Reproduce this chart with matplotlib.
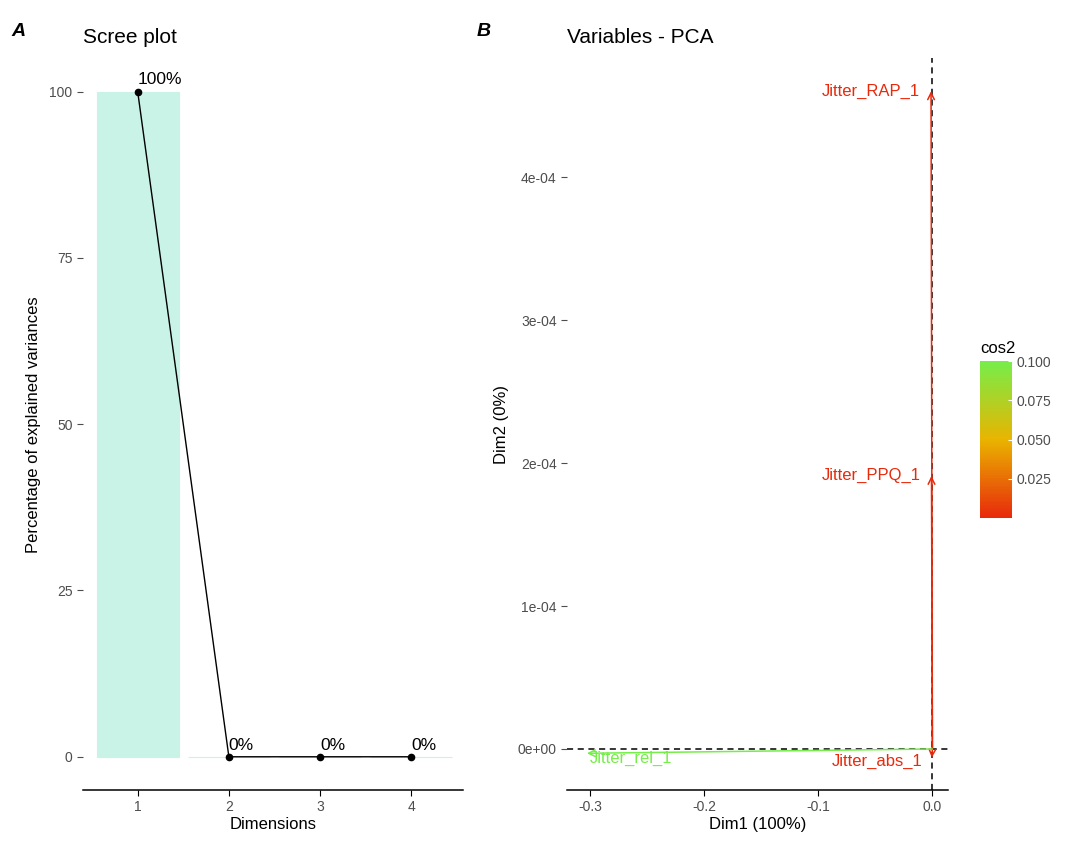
import numpy as np
import matplotlib
matplotlib.use("Agg")
import matplotlib.pyplot as plt
from matplotlib.colors import LinearSegmentedColormap, Normalize
from matplotlib.colorbar import ColorbarBase

plt.rcParams['font.family'] = ['Liberation Sans', 'DejaVu Sans']

# scree data
dims = [1, 2, 3, 4]
variance_pct = [100.0, 0.0, 0.0, 0.0]
pct_labels = ["100%", "0%", "0%", "0%"]

# variable coordinates on Dim1 / Dim2 and their cos2
var_names = ["Jitter_RAP_1", "Jitter_PPQ_1", "Jitter_abs_1", "Jitter_rel_1"]
dim1 = [-0.0012, -0.0008, -0.0005, -0.3026]
dim2 = [4.60e-4, 1.91e-4, -0.06e-4, -0.03e-4]
cos2 = [0.0, 0.0, 0.0, 0.1]

tick_grey = "#4D4D4D"
bar_col = "#C9F3E6"
cmap = LinearSegmentedColormap.from_list("cos2", ["#E8290B", "#E9B400", "#76EE4A"])
norm = Normalize(vmin=0.0, vmax=0.1)

fig = plt.figure(figsize=(10.68, 8.41), dpi=100)


def style_axes(ax):
    for side in ("top", "right", "left"):
        ax.spines[side].set_visible(False)
    ax.spines["bottom"].set_color("black")
    ax.spines["bottom"].set_linewidth(1.1)
    ax.tick_params(axis="both", colors=tick_grey, labelcolor=tick_grey,
                   length=4, width=0.8, labelsize=10)
    ax.tick_params(axis="x", colors="black", labelcolor=tick_grey)


# --- A: scree plot ---
ax1 = fig.add_axes([0.0777, 0.0606, 0.356, 0.870])
ax1.bar(dims, variance_pct, width=0.9, color=bar_col, edgecolor=bar_col, linewidth=0.8)
ax1.plot(dims, variance_pct, color="black", lw=1, marker="o", ms=4.5, zorder=3)
for x, y, lab in zip(dims, variance_pct, pct_labels):
    ax1.annotate(lab, (x, y), xytext=(0, 3), textcoords="offset points",
                 ha="left", va="bottom", fontsize=12.5, color="black")
ax1.set_xlim(0.4, 4.57)
ax1.set_ylim(-5, 105)
ax1.set_xticks(dims)
ax1.set_yticks([0, 25, 50, 75, 100])
ax1.set_xlabel("Dimensions", fontsize=12, color="black", labelpad=2)
ax1.set_ylabel("Percentage of explained variances", fontsize=12, color="black", labelpad=6)
ax1.set_title("Scree plot", loc="left", fontsize=15, pad=11)
style_axes(ax1)

# --- B: variables PCA ---
ax2 = fig.add_axes([0.531, 0.0606, 0.357, 0.870])
ax2.axhline(0, color="black", ls=(0, (4, 3)), lw=1.1, zorder=1)
ax2.axvline(0, color="black", ls=(0, (4, 3)), lw=1.1, zorder=1)
for name, x, y, c in zip(var_names, dim1, dim2, cos2):
    col = cmap(norm(c))
    ax2.annotate("", xy=(x, y), xytext=(0, 0),
                 arrowprops=dict(arrowstyle="->", color=col, lw=1.1,
                                 shrinkA=0, shrinkB=0, mutation_scale=12), zorder=2)
    if x < -0.1:
        ax2.annotate(name, (x, y), xytext=(2, -4), textcoords="offset points",
                     ha="left", va="center", fontsize=12, color=col)
    elif y < 0:
        ax2.annotate(name, (x, y), xytext=(-7, -3), textcoords="offset points",
                     ha="right", va="center", fontsize=12, color=col)
    else:
        ax2.annotate(name, (x, y), xytext=(-8, 0), textcoords="offset points",
                     ha="right", va="center", fontsize=12, color=col)
ax2.set_xlim(-0.32, 0.014)
ax2.set_ylim(-0.287e-4, 4.83e-4)
ax2.set_xticks([-0.3, -0.2, -0.1, 0.0])
ax2.set_xticklabels(["-0.3", "-0.2", "-0.1", "0.0"])
ax2.set_yticks([0, 1e-4, 2e-4, 3e-4, 4e-4])
ax2.set_yticklabels(["0e+00", "1e-04", "2e-04", "3e-04", "4e-04"])
ax2.set_xlabel("Dim1 (100%)", fontsize=12, color="black", labelpad=2)
ax2.set_ylabel("Dim2 (0%)", fontsize=12, color="black", labelpad=6)
ax2.set_title("Variables - PCA", loc="left", fontsize=15, pad=11)
style_axes(ax2)

# colour key
cax = fig.add_axes([0.9176, 0.384, 0.030, 0.1867])
cb = ColorbarBase(cax, cmap=cmap, norm=norm, orientation="vertical")
cb.outline.set_visible(False)
cb.set_ticks([0.025, 0.05, 0.075, 0.1])
cb.set_ticklabels(["0.025", "0.050", "0.075", "0.100"])
cax.tick_params(labelsize=10, labelcolor=tick_grey, color="white", length=3,
                direction="in", width=0.8)
cax.set_title("cos2", loc="left", fontsize=12, pad=6)

# panel tags
fig.text(0.011, 0.963, "A", fontsize=14, fontweight="bold", fontstyle="italic", va="center")
fig.text(0.446, 0.963, "B", fontsize=14, fontweight="bold", fontstyle="italic", va="center")

fig.savefig("out.png", dpi=100, facecolor="white")
